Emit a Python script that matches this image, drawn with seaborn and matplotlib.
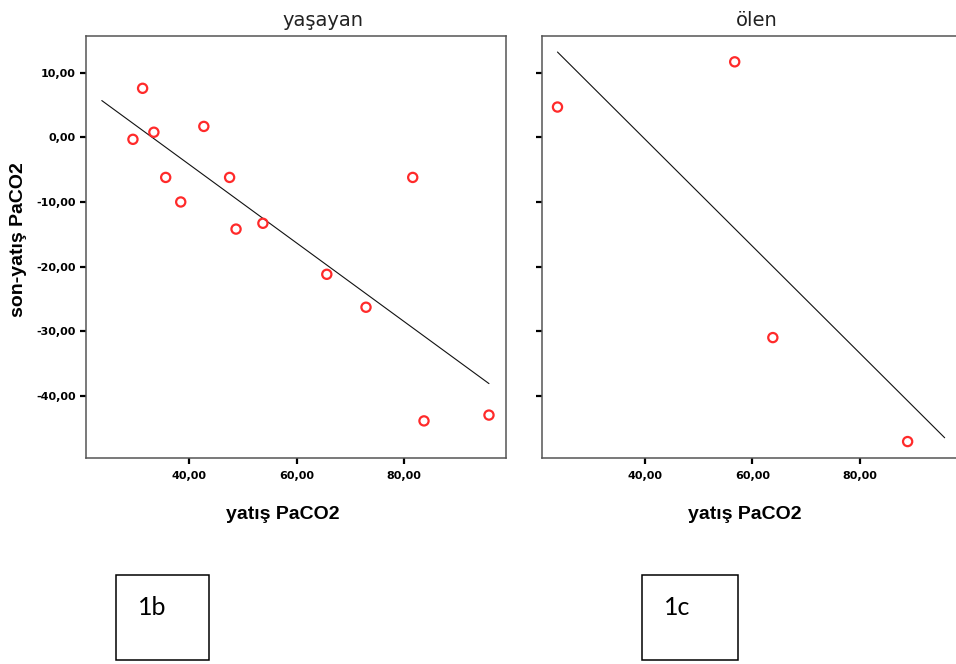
import matplotlib
matplotlib.use("Agg")
import matplotlib.pyplot as plt
import matplotlib.patches as mpatches
from matplotlib.ticker import FuncFormatter
import numpy as np
import pandas as pd
import seaborn as sns

# yaşayan (survivors)
alive_x = [29.5, 31.3, 33.4, 35.6, 38.4, 42.7, 47.5, 48.7, 53.7, 65.6, 72.9, 81.6, 83.7, 95.8]
alive_y = [-0.3, 7.6, 0.8, -6.2, -10.0, 1.7, -6.2, -14.2, -13.3, -21.2, -26.3, -6.2, -43.9, -43.0]

# ölen (deceased)
dead_x = [23.7, 56.7, 63.8, 88.9]
dead_y = [4.7, 11.7, -31.0, -47.1]

groups = ["yaşayan", "ölen"]
x_ticks = [40, 60, 80]
y_ticks = [10, 0, -10, -20, -30, -40]
x_label = "yatış PaCO2"
y_label = "son-yatış PaCO2"
box_labels = ["1b", "1c"]

df = pd.DataFrame({
    "x": alive_x + dead_x,
    "y": alive_y + dead_y,
    "grup": [groups[0]] * len(alive_x) + [groups[1]] * len(dead_x),
})

sns.set_theme(style="white")
plt.rcParams["font.family"] = ["DejaVu Sans"]
plt.rcParams.update({"text.color": "black", "axes.labelcolor": "black",
                     "xtick.color": "black", "ytick.color": "black"})

W, H = 956, 664
fig = plt.figure(figsize=(W / 100, H / 100), dpi=100)
fig.patch.set_facecolor("white")


def px_rect(left, top, right, bottom):
    return [left / W, 1 - bottom / H, (right - left) / W, (bottom - top) / H]


ax1 = fig.add_axes(px_rect(86, 36, 506, 457.7))
ax2 = fig.add_axes(px_rect(541.7, 36, 961.7, 457.7))

fmt = FuncFormatter(lambda v, pos: f"{v:.2f}".replace(".", ","))
x_all = (df["x"].min(), df["x"].max())
title_pos = [0.564, 0.513]
xlabel_pos = [0.469, 0.484]

for i, (ax, g) in enumerate(zip([ax1, ax2], groups)):
    sub = df[df["grup"] == g]
    # fit line spans the x range of both groups (SPSS style)
    ax.set_xlim(*x_all)
    sns.regplot(data=sub, x="x", y="y", ax=ax, scatter=False, ci=None,
                truncate=False, line_kws={"color": "#111111", "lw": 0.8})
    sns.scatterplot(data=sub, x="x", y="y", ax=ax, s=44, marker="o",
                    facecolor="none", edgecolor="#ff2a2a", linewidth=1.6, zorder=3)
    ax.set_xlim(20.76, 98.97)
    ax.set_ylim(-49.6, 15.7)
    ax.set_xticks(x_ticks)
    ax.set_yticks(y_ticks)
    ax.xaxis.set_major_formatter(fmt)
    ax.yaxis.set_major_formatter(fmt)
    ax.tick_params(direction="out", length=4.5, width=1.6, color="black",
                   labelsize=8, labelcolor="black", bottom=True, left=True)
    ax.tick_params(axis="x", pad=5)
    ax.tick_params(axis="y", pad=3)
    for lab in ax.get_xticklabels() + ax.get_yticklabels():
        lab.set_fontweight("bold")
    for sp in ax.spines.values():
        sp.set_visible(True)
        sp.set_color("#555555")
        sp.set_linewidth(1.1)
    ax.text(title_pos[i], 1.0237, g, transform=ax.transAxes, ha="center",
            va="baseline", fontsize=14, color="#222222")
    ax.set_xlabel(x_label, fontsize=14, fontweight="bold", color="black",
                  family=["Liberation Sans", "DejaVu Sans"])
    ax.xaxis.set_label_coords(xlabel_pos[i], -0.114)
    ax.set_ylabel("")

ax1.set_ylabel(y_label, fontsize=14, fontweight="bold", color="black",
               family=["Liberation Sans", "DejaVu Sans"])
ax1.yaxis.set_label_coords(-0.14, 0.517)
ax2.tick_params(axis="y", labelleft=False)

# boxed panel tags below the charts
boxes = [(116, 575, 209, 660, 138), (642, 575, 738, 660, 664)]
for (l, t, r, b, tx), lab in zip(boxes, box_labels):
    fig.patches.append(mpatches.Rectangle((l / W, 1 - b / H), (r - l) / W, (b - t) / H,
                                          transform=fig.transFigure, fill=False,
                                          edgecolor="black", linewidth=1.1))
    fig.text(tx / W, 1 - 615 / H, lab, ha="left", va="baseline", fontsize=18,
             family=["Lato", "DejaVu Sans"], color="black")

fig.savefig("out.png", dpi=100, facecolor="white")
